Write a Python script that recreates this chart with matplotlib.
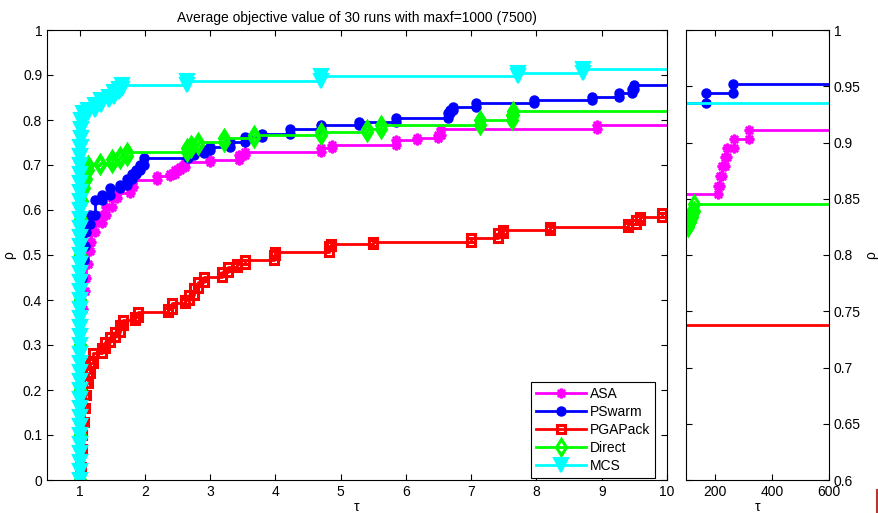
import numpy as np
import matplotlib.pyplot as plt
from matplotlib.lines import Line2D

plt.rcParams['font.family'] = ['Liberation Sans', 'DejaVu Sans']

# performance profile data: at tau the value of rho becomes the given value
asa_tau = [1.0, 1.0, 1.0, 1.0, 1.02, 1.05, 1.08, 1.10, 1.13, 1.16, 1.18, 1.23, 1.34, 1.41,
           1.49, 1.57, 1.77, 1.82, 2.18, 2.39, 2.46, 2.54, 2.62, 3.0, 3.44, 3.54, 4.70,
           4.87, 5.85, 6.17, 6.49, 6.54, 8.93]
asa_rho = [0.0, 0.1, 0.2, 0.3, 0.38, 0.42, 0.45, 0.48, 0.51, 0.53, 0.55, 0.571, 0.589, 0.607,
           0.626, 0.637, 0.652, 0.667, 0.676, 0.681, 0.689, 0.696, 0.707, 0.711, 0.722, 0.730, 0.737,
           0.744, 0.756, 0.761, 0.767, 0.781, 0.789]

pswarm_tau = [1.0, 1.0, 1.0, 1.0, 1.0, 1.02, 1.04, 1.06, 1.08, 1.10, 1.16, 1.23, 1.34, 1.46,
              1.62, 1.72, 1.80, 1.87, 1.93, 1.99, 2.66, 2.75, 2.90, 3.0, 3.31, 3.54, 3.79,
              4.22, 4.70, 5.28, 5.85, 6.64, 6.68, 6.72, 7.08, 7.96, 8.85, 9.26, 9.47, 9.49]
pswarm_rho = [0.0, 0.1, 0.2, 0.3, 0.4, 0.45, 0.49, 0.52, 0.55, 0.57, 0.589, 0.622, 0.633, 0.648,
              0.656, 0.67, 0.68, 0.69, 0.70, 0.715, 0.722, 0.726, 0.733, 0.741, 0.752, 0.763, 0.770,
              0.779, 0.789, 0.796, 0.804, 0.815, 0.822, 0.830, 0.837, 0.844, 0.852, 0.861, 0.870, 0.878]

pga_tau = [1.0, 1.0, 1.02, 1.03, 1.04, 1.06, 1.08, 1.10, 1.13, 1.16, 1.21, 1.34, 1.39, 1.46,
           1.54, 1.62, 1.67, 1.85, 1.90, 2.36, 2.41, 2.62, 2.67, 2.75, 2.82, 2.90, 3.18, 3.28,
           3.41, 3.54, 3.98, 4.0, 4.82, 4.85, 5.49, 7.0, 7.41, 7.49, 8.21, 9.41, 9.52, 9.59, 9.93]
pga_rho = [0.0, 0.03, 0.07, 0.10, 0.13, 0.16, 0.19, 0.215, 0.237, 0.26, 0.282, 0.293, 0.307, 0.318,
           0.33, 0.344, 0.356, 0.363, 0.374, 0.381, 0.393, 0.40, 0.411, 0.426, 0.441, 0.452, 0.463, 0.474,
           0.481, 0.489, 0.50, 0.507, 0.519, 0.524, 0.530, 0.537, 0.548, 0.555, 0.563, 0.570, 0.578, 0.585, 0.594]

direct_tau = [1.0, 1.0, 1.0, 1.0, 1.0, 1.0, 1.01, 1.02, 1.04, 1.07, 1.10, 1.13, 1.31, 1.49, 1.62,
              1.73, 2.64, 2.70, 2.82, 3.21, 3.67, 4.70, 5.41, 5.62, 7.13, 7.62, 7.64]
direct_rho = [0.0, 0.1, 0.2, 0.3, 0.4, 0.5, 0.58, 0.62, 0.65, 0.67, 0.69, 0.70, 0.704, 0.713, 0.72,
              0.73, 0.737, 0.745, 0.752, 0.759, 0.767, 0.774, 0.781, 0.789, 0.800, 0.811, 0.82]

mcs_tau = [1.0, 1.0, 1.0, 1.0, 1.0, 1.0, 1.0, 1.0, 1.0, 1.0, 1.0, 1.0, 1.0, 1.0, 1.0, 1.0,
           1.0, 1.0, 1.0, 1.0, 1.0, 1.0, 1.0, 1.0, 1.0, 1.0, 1.0, 1.0, 1.0, 1.0, 1.0, 1.0,
           1.0, 1.0, 1.0, 1.0, 1.01, 1.01, 1.02, 1.02, 1.02,
           1.05, 1.13, 1.23, 1.33, 1.45, 1.52, 1.60, 1.65, 2.64, 4.70, 7.72, 8.72]
mcs_rho = [0.0, 0.02, 0.04, 0.06, 0.08, 0.10, 0.12, 0.14, 0.16, 0.18, 0.20, 0.22, 0.24, 0.26,
           0.28, 0.30, 0.32, 0.34, 0.36, 0.38, 0.40, 0.42, 0.44, 0.46, 0.48, 0.50, 0.52, 0.54,
           0.56, 0.58, 0.60, 0.62, 0.64, 0.66, 0.68, 0.70, 0.72, 0.74, 0.76, 0.78, 0.80,
           0.815, 0.822, 0.833, 0.844, 0.852, 0.863, 0.870, 0.878, 0.887, 0.897, 0.905, 0.913]

# zoomed-out part (tau from 100 to 600)
asa_tau_far = [100, 209, 217, 226, 235, 243, 266, 318]
asa_rho_far = [0.854, 0.861, 0.870, 0.879, 0.887, 0.895, 0.903, 0.911]
pswarm_tau_far = [100, 170, 264]
pswarm_rho_far = [0.935, 0.944, 0.952]
pga_tau_far = [100]
pga_rho_far = [0.738]
direct_tau_far = [100, 106, 114, 121, 126]
direct_rho_far = [0.825, 0.829, 0.834, 0.839, 0.845]
mcs_tau_far = [100]
mcs_rho_far = [0.935]

names = ['ASA', 'PSwarm', 'PGAPack', 'Direct', 'MCS']
colors = ['#ff00ff', '#0000ff', '#ff0000', '#00ff00', '#00ffff']
near = [(asa_tau, asa_rho), (pswarm_tau, pswarm_rho), (pga_tau, pga_rho),
        (direct_tau, direct_rho), (mcs_tau, mcs_rho)]
far = [(asa_tau_far, asa_rho_far), (pswarm_tau_far, pswarm_rho_far), (pga_tau_far, pga_rho_far),
       (direct_tau_far, direct_rho_far), (mcs_tau_far, mcs_rho_far)]

styles = [dict(marker=(8, 2, 0), ms=7, mew=1.8, mfc='#ff00ff'),
          dict(marker='o', ms=6.5, mew=1, mfc='#0000ff'),
          dict(marker='s', ms=6, mew=2.2, mfc='none'),
          dict(marker='d', ms=8, mew=2.2, mfc='none'),
          dict(marker='v', ms=9.5, mew=1.5, mfc='#00ffff')]


def stairs(t, r, t_end):
    x = np.append(np.repeat(t, 2)[1:], t_end)
    y = np.append(np.repeat(r, 2)[:-1], r[-1])
    return x, y


fig = plt.figure(figsize=(8.79, 5.13), dpi=100)
ax = fig.add_axes([47 / 879, 1 - 480 / 513, 620 / 879, 450 / 513])
ax2 = fig.add_axes([686.5 / 879, 1 - 480 / 513, 142.5 / 879, 450 / 513])

handles = []
for (t, r), (tf, rf), c, st, nm in zip(near, far, colors, styles, names):
    x, y = stairs(t, r, 10.5)
    ax.plot(x, y, color=c, lw=2, markevery=slice(0, -1), mec=c, **st)
    x, y = stairs(tf, rf, 650)
    if len(tf) > 1:
        ax2.plot(x, y, color=c, lw=2, markevery=slice(1, -1), mec=c, **st)
    else:
        ax2.plot(x, y, color=c, lw=2)
    handles.append(Line2D([], [], color=c, lw=2, mec=c, label=nm, **st))

ax.set_xlim(0.5, 10)
ax.set_ylim(0, 1)
ax.set_xticks(range(1, 11))
ax.set_yticks(np.arange(0, 1.01, 0.1))
ax.set_yticklabels(['0', '0.1', '0.2', '0.3', '0.4', '0.5', '0.6', '0.7', '0.8', '0.9', '1'])
ax.tick_params(direction='in', top=True, right=True, labelsize=10, length=4)
ax.set_xlabel('τ', fontsize=10, labelpad=1)
ax.set_ylabel('ρ', fontsize=10, labelpad=5)
ax.set_title('Average objective value of 30 runs with maxf=1000 (7500)', fontsize=10, pad=6)
leg = ax.legend(handles=handles, loc='lower right', bbox_to_anchor=(0.981, 0.004),
                fontsize=10, fancybox=False, edgecolor='black', framealpha=1,
                handlelength=3.6, borderpad=0.35, labelspacing=0.3, handletextpad=0.3,
                borderaxespad=0)
leg.get_frame().set_linewidth(0.8)

ax2.set_xlim(100, 600)
ax2.set_ylim(0.6, 1)
ax2.set_xticks([200, 400, 600])
ax2.set_yticks([0.6, 0.65, 0.7, 0.75, 0.8, 0.85, 0.9, 0.95, 1])
ax2.set_yticklabels(['0.6', '0.65', '0.7', '0.75', '0.8', '0.85', '0.9', '0.95', '1'])
ax2.yaxis.tick_right()
ax2.yaxis.set_label_position('right')
ax2.tick_params(direction='in', top=True, left=True, right=True, labelsize=10, length=4)
ax2.set_xlabel('τ', fontsize=10, labelpad=1)
ax2.set_ylabel('ρ', fontsize=10, labelpad=2)

fig.add_artist(Line2D([877 / 879, 877 / 879], [0, 23 / 513], color='#b03a2e', lw=1.5))

fig.savefig('out.png', dpi=100)
